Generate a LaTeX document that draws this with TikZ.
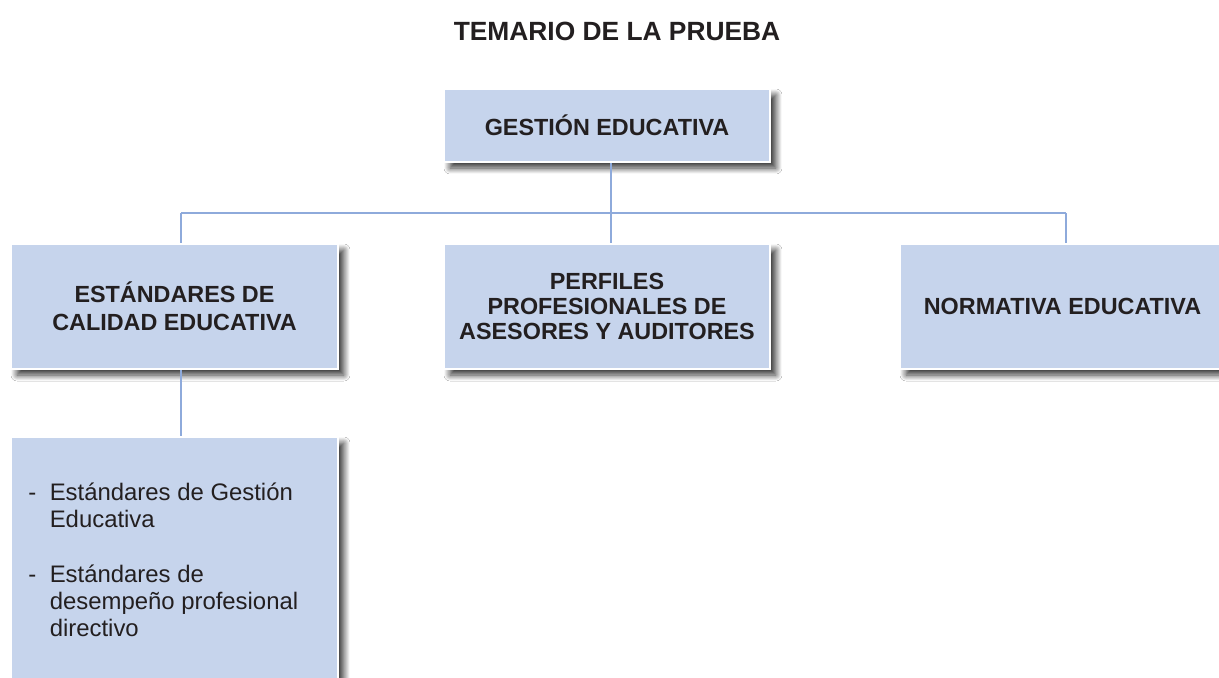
\documentclass[tikz,border=0pt]{standalone}
\usepackage{fontspec}
\setmainfont{Liberation Sans}
\usetikzlibrary{shadows.blur}
\definecolor{boxfill}{HTML}{C6D4EC}
\definecolor{connc}{HTML}{8EAADB}
\definecolor{txt}{HTML}{231F20}
\begin{document}
\begin{tikzpicture}[x=0.02cm,y=-0.02cm,
  box/.style={draw=white,line width=1.6pt,fill=boxfill,
    blur shadow={shadow xshift=0.12cm,shadow yshift=-0.12cm,shadow blur radius=0.12cm,shadow opacity=80,shadow blur steps=12},
    text=txt,font=\fontsize{13.3}{15}\selectfont\bfseries,align=center,inner sep=0pt},
  conn/.style={draw=connc,line width=1.2pt},
  item/.style={text=txt,font=\fontsize{13.6}{15.4}\selectfont,align=left,inner sep=0pt,anchor=north west}]
\useasboundingbox (0,0) rectangle (1219,677);
\fill[white] (0,0) rectangle (1219,677);
\node[text=txt,font=\fontsize{15}{17}\selectfont\bfseries] (title) at (617,31) {TEMARIO DE LA PRUEBA};
\node[box,minimum width=6.52cm,minimum height=1.46cm] (top) at (607,125.5) {GESTIÓN EDUCATIVA};
\node[box,minimum width=6.54cm,minimum height=2.5cm,font=\fontsize{13.3}{16}\selectfont\bfseries] (lb) at (174.5,306.5) {ESTÁNDARES DE\\CALIDAD EDUCATIVA};
\node[box,minimum width=6.52cm,minimum height=2.5cm,font=\fontsize{13.3}{14.4}\selectfont\bfseries] (mb) at (607,306.5) {PERFILES\\PROFESIONALES DE\\ASESORES Y AUDITORES};
\node[box,minimum width=6.5cm,minimum height=2.5cm] (rb) at (1062.5,306.5) {NORMATIVA EDUCATIVA};
\node[box,minimum width=6.54cm,minimum height=5.2cm] (bb) at (174.5,567) {};
\node[item] (bbt) at (28,481) {\begin{tabular}{@{}l@{\hspace{0.27cm}}l@{}}
-& Estándares de Gestión\\
 & Educativa\\[16pt]
-& Estándares de\\
 & desempeño profesional\\
 & directivo
\end{tabular}};
\coordinate (jl) at (181,213);
\coordinate (jm) at (611,213);
\coordinate (jr) at (1066,213);
\draw[conn] (top.south -| jm) -- (jm);
\draw[conn] (jl) -- (jr);
\draw[conn] (jl) -- (lb.north -| jl);
\draw[conn] (jm) -- (mb.north -| jm);
\draw[conn] (jr) -- (rb.north -| jr);
\draw[conn] (lb.south -| jl) -- (bb.north -| jl);
\end{tikzpicture}
\end{document}
